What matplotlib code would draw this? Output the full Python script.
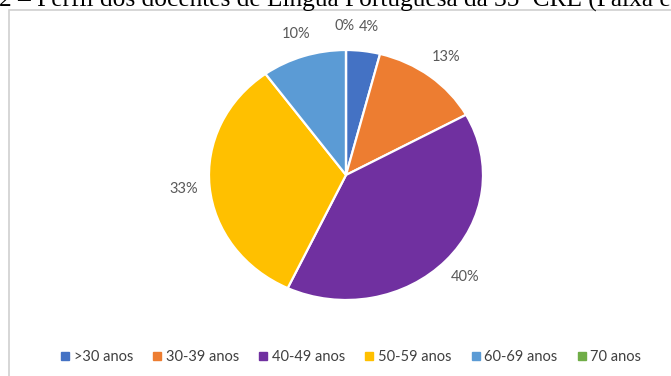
import matplotlib.pyplot as plt
from matplotlib.patches import Rectangle
from matplotlib.lines import Line2D

# faixas etárias dos docentes (% do total)
faixas = [">30 anos", "30-39 anos", "40-49 anos", "50-59 anos", "60-69 anos", "70 anos"]
percentuais = [4, 13, 40, 33, 10, 0]
cores = ["#4472C4", "#ED7D31", "#7030A0", "#FFC000", "#5B9BD5", "#70AD47"]
titulo = "2 – Perfil dos docentes de Língua Portuguesa da 35ª CRE (Faixa etária)"

W, H = 671, 376
fig = plt.figure(figsize=(W / 100, H / 100), dpi=100)

# moldura do gráfico (só aparecem as bordas de cima e da esquerda)
fig.patches.append(Rectangle((8.5 / W, -0.1), 1.2, (H - 9.5) / H + 0.1,
                             transform=fig.transFigure, fill=False,
                             edgecolor="#d0d0d0", linewidth=1.2))

# titulo do documento, cortado no topo
fig.text(-0.002, 1 - 7 / H, titulo, family="Liberation Serif", fontsize=18.3,
         va="baseline", ha="left", color="black")

# pizza levemente achatada: 1 unidade = 137 px na horizontal, 125 px na vertical
cx, cy, rx, ry, lim = 346, 175, 137, 125, 1.5
ax = fig.add_axes([(cx - lim * rx) / W, (H - cy - lim * ry) / H,
                   2 * lim * rx / W, 2 * lim * ry / H])
wedges, textos, pcts = ax.pie(percentuais, colors=cores, startangle=90, counterclock=False,
                              autopct="%1.0f%%", pctdistance=1.19,
                              wedgeprops=dict(edgecolor="white", linewidth=1.6),
                              textprops=dict(color="#595959", fontsize=10.5, family="Lato"))
ax.set_aspect("auto")
ax.set_xlim(-lim, lim)
ax.set_ylim(-lim, lim)
ax.axis("off")

# ajuste dos rótulos de 0% e 4% que ficam colados no topo
for v, t in zip(percentuais, pcts):
    if v == 0:
        t.set_ha("right")
        t.set_x(t.get_position()[0] + 0.06)
    elif v == 4:
        t.set_x(t.get_position()[0] + 0.02)

handles = [Line2D([], [], marker="s", linestyle="none", markersize=5.5,
                  markerfacecolor=c, markeredgecolor=c) for c in cores]
fig.legend(handles, faixas, loc="center", bbox_to_anchor=(351 / W, 1 - 357 / H), ncol=6,
           frameon=False, handlelength=0.6, handletextpad=0.3, columnspacing=1.35,
           prop=dict(family="Lato", size=10.5), labelcolor="#404040")

fig.savefig("out.png", dpi=100)
